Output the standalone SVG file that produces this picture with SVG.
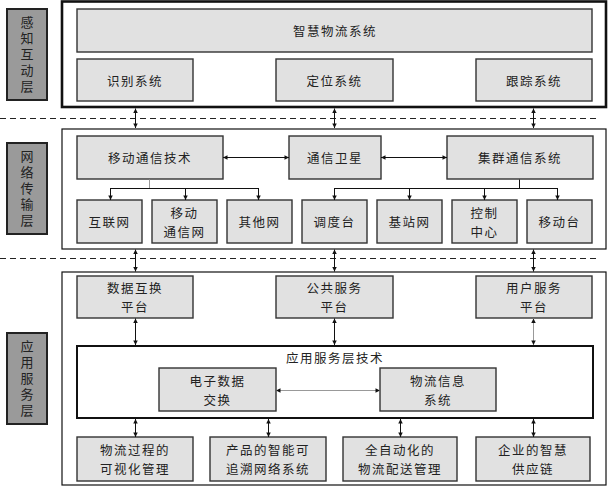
<svg xmlns="http://www.w3.org/2000/svg" width="609" height="487" viewBox="0 0 609 487">
<style>
.bg{fill:#ffffff}
.frame{fill:#ffffff;stroke:#111;stroke-width:1.2}
.frame1{fill:#ffffff;stroke:#111;stroke-width:2.6}
.lbl{fill:#9a9a9a;stroke:#222;stroke-width:2}
.node{fill:#e1e1e1;stroke:#333;stroke-width:1.4}
.tech{fill:#ffffff;stroke:#111;stroke-width:2}
text{font-family:"Noto Sans CJK SC","Noto Sans CJK TC",sans-serif;font-size:12.5px;fill:#222;text-anchor:middle;dominant-baseline:central;letter-spacing:1.5px}
.v{writing-mode:vertical-rl;letter-spacing:3px;font-size:13px}
.c{stroke:#111;stroke-width:1;fill:none}
.g{stroke:#999;stroke-width:1;fill:none}
.dash{stroke:#222;stroke-width:1;stroke-dasharray:6 4;fill:none}
</style>
<defs>
<marker id="ah" viewBox="0 0 6 6" refX="6" refY="3" markerWidth="6" markerHeight="4.5" markerUnits="userSpaceOnUse" orient="auto-start-reverse">
<path d="M0,0 L6,3 L0,6 z" fill="#111"/>
</marker>
</defs>
<rect class="bg" x="0" y="0" width="609" height="487"/>

<g id="layer1">
<rect class="frame1" x="62" y="1.5" width="544" height="105.5"/>
<g id="label1"><rect class="lbl" x="7" y="9" width="40" height="91"/>
<text class="v" x="27" y="56">感知互动层</text></g>
<g id="n-zhihui"><rect class="node" x="77" y="9" width="515" height="43"/><text x="335" y="30.5">智慧物流系统</text></g>
<g id="n-shibie"><rect class="node" x="77" y="59" width="116" height="42"/><text x="135" y="80">识别系统</text></g>
<g id="n-dingwei"><rect class="node" x="276" y="59" width="117" height="42"/><text x="334.5" y="80">定位系统</text></g>
<g id="n-genzong"><rect class="node" x="476" y="59" width="116" height="42"/><text x="534" y="80">跟踪系统</text></g>
</g>

<g id="layer2">
<rect class="frame" x="62" y="129" width="544" height="120"/>
<g id="label2"><rect class="lbl" x="7" y="143" width="40" height="91"/>
<text class="v" x="27" y="190">网络传输层</text></g>
<g id="n-yidongtx"><rect class="node" x="77" y="136" width="146" height="43"/><text x="150" y="157.5">移动通信技术</text></g>
<g id="n-weixing"><rect class="node" x="289" y="136" width="92" height="43"/><text x="335" y="157.5">通信卫星</text></g>
<g id="n-jiqun"><rect class="node" x="447" y="136" width="146" height="43"/><text x="520" y="157.5">集群通信系统</text></g>
<g id="n-hulian"><rect class="node" x="77" y="200" width="65" height="43"/><text x="109.5" y="221.5">互联网</text></g>
<g id="n-yidongw"><rect class="node" x="152" y="200" width="65" height="43"/><text x="184.5" y="212">移动</text><text x="184.5" y="231">通信网</text></g>
<g id="n-qita"><rect class="node" x="227" y="200" width="65" height="43"/><text x="259.5" y="221.5">其他网</text></g>
<g id="n-diaodu"><rect class="node" x="302" y="200" width="65" height="43"/><text x="334.5" y="221.5">调度台</text></g>
<g id="n-jizhan"><rect class="node" x="377" y="200" width="65" height="43"/><text x="409.5" y="221.5">基站网</text></g>
<g id="n-kongzhi"><rect class="node" x="452" y="200" width="65" height="43"/><text x="484.5" y="212">控制</text><text x="484.5" y="231">中心</text></g>
<g id="n-yidongtai"><rect class="node" x="527" y="200" width="65" height="43"/><text x="559.5" y="221.5">移动台</text></g>
</g>

<g id="layer3">
<rect class="frame" x="62" y="272" width="544" height="213"/>
<g id="label3"><rect class="lbl" x="7" y="333" width="40" height="91"/>
<text class="v" x="27" y="380">应用服务层</text></g>
<g id="n-shuju"><rect class="node" x="77" y="276" width="116" height="42"/><text x="135" y="287.5">数据互换</text><text x="135" y="306.5">平台</text></g>
<g id="n-gonggong"><rect class="node" x="276" y="276" width="117" height="42"/><text x="334.5" y="287.5">公共服务</text><text x="334.5" y="306.5">平台</text></g>
<g id="n-yonghu"><rect class="node" x="476" y="276" width="116" height="42"/><text x="534" y="287.5">用户服务</text><text x="534" y="306.5">平台</text></g>
<g id="n-tech"><rect class="tech" x="77" y="346" width="516" height="72"/><text x="335" y="357">应用服务层技术</text></g>
<g id="n-edi"><rect class="node" x="159" y="368" width="117" height="43"/><text x="217.5" y="380">电子数据</text><text x="217.5" y="399">交换</text></g>
<g id="n-wlxx"><rect class="node" x="380" y="368" width="116" height="43"/><text x="438" y="380">物流信息</text><text x="438" y="399">系统</text></g>
<g id="n-keshi"><rect class="node" x="77" y="437" width="116" height="44"/><text x="135" y="449.5">物流过程的</text><text x="135" y="468.5">可视化管理</text></g>
<g id="n-zhuisu"><rect class="node" x="210" y="437" width="116" height="44"/><text x="268" y="449.5">产品的智能可</text><text x="268" y="468.5">追溯网络系统</text></g>
<g id="n-peisong"><rect class="node" x="343" y="437" width="114" height="44"/><text x="400" y="449.5">全自动化的</text><text x="400" y="468.5">物流配送管理</text></g>
<g id="n-gongying"><rect class="node" x="476" y="437" width="114" height="44"/><text x="533" y="449.5">企业的智慧</text><text x="533" y="468.5">供应链</text></g>
</g>

<g id="connectors">
<line class="dash" x1="0" y1="118.5" x2="596" y2="118.5"/>
<line class="dash" x1="0" y1="258.5" x2="596" y2="258.5"/>
<line class="c" x1="135.5" y1="108.5" x2="135.5" y2="128" marker-start="url(#ah)" marker-end="url(#ah)"/>
<line class="c" x1="334.5" y1="108.5" x2="334.5" y2="128" marker-start="url(#ah)" marker-end="url(#ah)"/>
<line class="c" x1="533.5" y1="108.5" x2="533.5" y2="128" marker-start="url(#ah)" marker-end="url(#ah)"/>
<line class="c" x1="135.5" y1="249.5" x2="135.5" y2="271.5" marker-start="url(#ah)" marker-end="url(#ah)"/>
<line class="c" x1="334.5" y1="249.5" x2="334.5" y2="271.5" marker-start="url(#ah)" marker-end="url(#ah)"/>
<line class="c" x1="533.5" y1="249.5" x2="533.5" y2="271.5" marker-start="url(#ah)" marker-end="url(#ah)"/>
<line class="c" x1="223" y1="157.5" x2="289" y2="157.5" marker-start="url(#ah)" marker-end="url(#ah)"/>
<line class="c" x1="381" y1="157.5" x2="447" y2="157.5" marker-start="url(#ah)" marker-end="url(#ah)"/>
<line class="g" x1="149.5" y1="179.5" x2="149.5" y2="188"/>
<line class="c" x1="110" y1="188.5" x2="259" y2="188.5"/>
<line class="c" x1="110.5" y1="188.5" x2="110.5" y2="200" marker-end="url(#ah)"/>
<line class="c" x1="185.5" y1="188.5" x2="185.5" y2="200" marker-end="url(#ah)"/>
<line class="c" x1="258.5" y1="188.5" x2="258.5" y2="200" marker-end="url(#ah)"/>
<line class="c" x1="519.5" y1="179.5" x2="519.5" y2="188"/>
<line class="c" x1="334" y1="188.5" x2="558" y2="188.5"/>
<line class="c" x1="334.5" y1="188.5" x2="334.5" y2="200" marker-end="url(#ah)"/>
<line class="c" x1="409.5" y1="188.5" x2="409.5" y2="200" marker-end="url(#ah)"/>
<line class="c" x1="484.5" y1="188.5" x2="484.5" y2="200" marker-end="url(#ah)"/>
<line class="c" x1="557.5" y1="188.5" x2="557.5" y2="200" marker-end="url(#ah)"/>
<line class="c" x1="135.5" y1="318.5" x2="135.5" y2="345" marker-start="url(#ah)" marker-end="url(#ah)"/>
<line class="c" x1="334.5" y1="318.5" x2="334.5" y2="345" marker-start="url(#ah)" marker-end="url(#ah)"/>
<line class="g" x1="533.5" y1="318.5" x2="533.5" y2="345" marker-start="url(#ah)" marker-end="url(#ah)"/>
<line class="g" x1="276" y1="390.5" x2="380" y2="390.5" marker-start="url(#ah)" marker-end="url(#ah)"/>
<line class="c" x1="135.5" y1="419" x2="135.5" y2="437" marker-start="url(#ah)" marker-end="url(#ah)"/>
<line class="c" x1="268.5" y1="419" x2="268.5" y2="437" marker-start="url(#ah)" marker-end="url(#ah)"/>
<line class="c" x1="400.5" y1="419" x2="400.5" y2="437" marker-start="url(#ah)" marker-end="url(#ah)"/>
<line class="c" x1="533.5" y1="419" x2="533.5" y2="437" marker-start="url(#ah)" marker-end="url(#ah)"/>
</g>
</svg>
